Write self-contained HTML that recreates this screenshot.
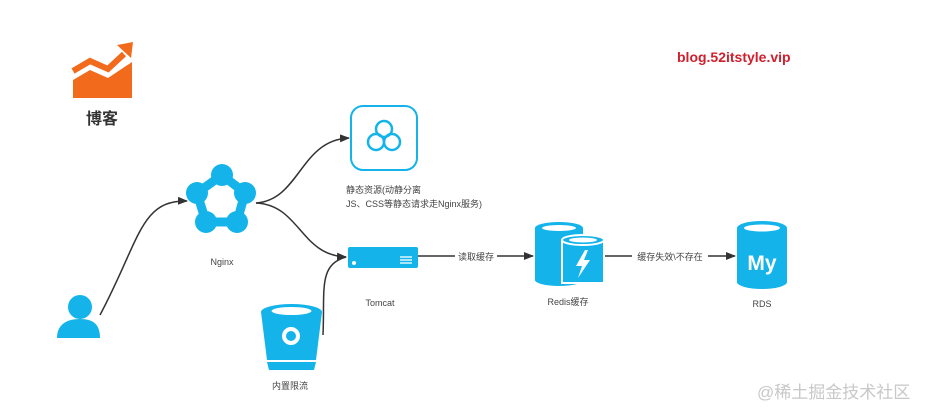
<!DOCTYPE html>
<html><head><meta charset="utf-8"><style>
html,body{margin:0;padding:0;background:#fff;}
svg{display:block;}
text{font-family:"Liberation Sans","Noto Sans CJK SC",sans-serif;}
</style></head><body>
<svg width="931" height="416" viewBox="0 0 931 416" xmlns="http://www.w3.org/2000/svg">
<defs>
<marker id="ar" markerWidth="10" markerHeight="8" refX="9" refY="4" orient="auto" markerUnits="userSpaceOnUse">
<path d="M0,0 L10,4 L0,8 Z" fill="#333"/></marker>
</defs>
<!-- logo -->
<polygon points="73,80 90,70 108,78 132,62 132,98 73,98" fill="#f26b1d"/>
<polyline points="73,71 90,61 108,69 124,54" fill="none" stroke="#f26b1d" stroke-width="6"/>
<polygon points="117,45 133,42 131,58" fill="#f26b1d"/>
<text x="102" y="124" font-size="16" font-weight="bold" fill="#333" text-anchor="middle">博客</text>
<text x="677" y="62" font-size="14" font-weight="bold" fill="#d0202e">blog.52itstyle.vip</text>

<!-- connectors -->
<g fill="none" stroke="#333" stroke-width="1.5">
<path d="M100,315 C140,240 140,200 187,201" marker-end="url(#ar)"/>
<path d="M256,203 C300,200 300,140 349,138" marker-end="url(#ar)"/>
<path d="M256,203 C300,205 300,255 346,257" marker-end="url(#ar)"/>
<path d="M323,335 C325,290 318,265 346,257"/>
<path d="M418,256 L533,256" marker-end="url(#ar)"/>
<path d="M604,256 L735,256" marker-end="url(#ar)"/>
</g>
<rect x="455" y="249" width="42" height="13" fill="#fff"/>
<text x="476" y="260" font-size="9" fill="#444" text-anchor="middle">读取缓存</text>
<rect x="632" y="249" width="76" height="13" fill="#fff"/>
<text x="670" y="260" font-size="9" fill="#444" text-anchor="middle">缓存失效\不存在</text>

<!-- user -->
<circle cx="80" cy="307" r="12" fill="#14b4ea"/>
<path d="M57,338 C57,325 66,319 80,319 C94,319 100,325 100,338 Z" fill="#14b4ea"/>

<!-- nginx -->
<polygon points="222,175 245,193 237,222 206,222 197,193" fill="none" stroke="#14b4ea" stroke-width="9" stroke-linejoin="round"/>
<g fill="#14b4ea">
<circle cx="222" cy="175" r="11"/><circle cx="245" cy="193" r="11"/><circle cx="237" cy="222" r="11"/><circle cx="206" cy="222" r="11"/><circle cx="197" cy="193" r="11"/>
</g>
<text x="222" y="265" font-size="9" fill="#444" text-anchor="middle">Nginx</text>

<!-- cloud box -->
<rect x="351" y="106" width="66" height="64" rx="12" fill="#fff" stroke="#14b4ea" stroke-width="2"/>
<g fill="none" stroke="#14b4ea" stroke-width="2.5">
<circle cx="384" cy="129" r="8"/><circle cx="376" cy="142" r="8"/><circle cx="392" cy="142" r="8"/>
</g>
<text x="346" y="193" font-size="9" fill="#444">静态资源(动静分离</text>
<text x="346" y="207" font-size="9" fill="#444">JS、CSS等静态请求走Nginx服务)</text>

<!-- tomcat -->
<rect x="348" y="247" width="70" height="21" rx="2" fill="#14b4ea"/>
<circle cx="354" cy="263" r="2" fill="#fff"/>
<g stroke="#fff" stroke-width="1.3"><line x1="400" y1="257" x2="412" y2="257"/><line x1="400" y1="260" x2="412" y2="260"/><line x1="400" y1="263" x2="412" y2="263"/></g>
<text x="380" y="306" font-size="9" fill="#444" text-anchor="middle">Tomcat</text>

<!-- bucket -->
<path d="M261,312 L322,312 L316,360 L267,360 Z" fill="#14b4ea"/>
<ellipse cx="291.5" cy="312" rx="30.5" ry="8" fill="#14b4ea"/>
<ellipse cx="291.5" cy="311" rx="20" ry="4" fill="#fff"/>
<path d="M267,362 L316,362 L314,370 L269,370 Z" fill="#14b4ea"/>
<circle cx="291" cy="336" r="7" fill="none" stroke="#fff" stroke-width="4"/>
<text x="290" y="389" font-size="9" fill="#444" text-anchor="middle">内置限流</text>

<!-- redis -->
<rect x="535" y="228" width="48" height="52" fill="#14b4ea"/>
<ellipse cx="559" cy="280" rx="24" ry="6" fill="#14b4ea"/>
<ellipse cx="559" cy="228" rx="24" ry="6" fill="#14b4ea"/>
<ellipse cx="559" cy="228" rx="17" ry="3" fill="#fff"/>
<rect x="562" y="240" width="42" height="43" fill="#14b4ea" stroke="#fff" stroke-width="2"/>
<ellipse cx="583" cy="240" rx="21" ry="5" fill="#14b4ea" stroke="#fff" stroke-width="2"/>
<ellipse cx="583" cy="240" rx="14" ry="2.5" fill="#fff"/>
<polygon points="585,250 576,266 582,266 578,278 590,260 584,260 588,250" fill="#fff"/>
<text x="568" y="305" font-size="9" fill="#444" text-anchor="middle">Redis缓存</text>

<!-- rds -->
<rect x="737" y="228" width="50" height="54" fill="#14b4ea"/>
<ellipse cx="762" cy="282" rx="25" ry="7" fill="#14b4ea"/>
<ellipse cx="762" cy="228" rx="25" ry="7" fill="#14b4ea"/>
<ellipse cx="762" cy="228" rx="18" ry="3.5" fill="#fff"/>
<text x="762" y="270" font-size="21" font-weight="bold" fill="#fff" text-anchor="middle">My</text>
<text x="762" y="307" font-size="9" fill="#444" text-anchor="middle">RDS</text>

<text x="757" y="398" font-size="17" fill="#c8c8c8">@稀土掘金技术社区</text>
</svg>
</body></html>
